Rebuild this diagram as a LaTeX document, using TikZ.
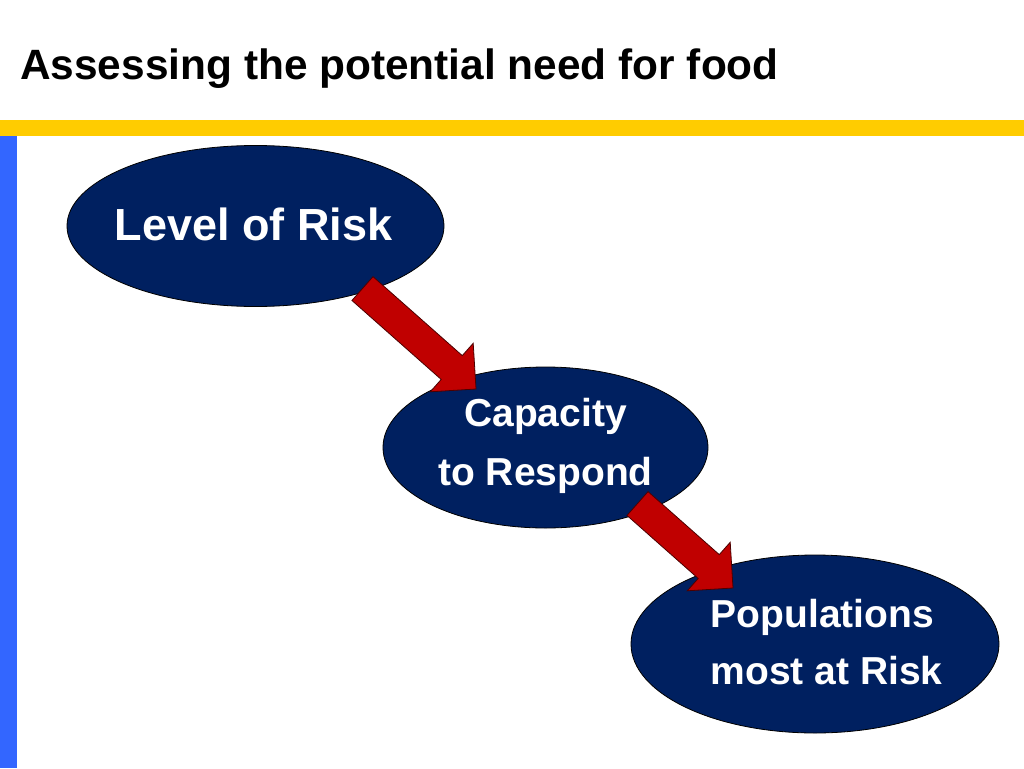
\documentclass[tikz,border=0pt]{standalone}
\usepackage{fontspec}
\setmainfont{Liberation Sans}
\usetikzlibrary{shapes.geometric,shapes.arrows,calc}
\definecolor{navy}{HTML}{002060}
\definecolor{arrowred}{HTML}{C00000}
\definecolor{barblue}{HTML}{3366FF}
\definecolor{baryellow}{HTML}{FFCC00}
\begin{document}
\begin{tikzpicture}[x=1pt,y=-1pt,
  bubble/.style={ellipse, draw=black, line width=0.8pt, fill=navy, inner sep=0pt},
  bubtext/.style={text=white, font=\fontsize{39}{47}\selectfont\bfseries, inner sep=0pt},
  bigtext/.style={text=white, font=\fontsize{45}{54}\selectfont\bfseries, inner sep=0pt},
  blockarrow/.style={single arrow, draw=black!70!red, line width=0.8pt, fill=arrowred,
    minimum width=64pt, single arrow head extend=16.5pt, single arrow tip angle=90,
    inner xsep=0pt, inner ysep=15.5pt, outer sep=0pt}]
\fill[white] (0,0) rectangle (1024,768);
\useasboundingbox (0,0) rectangle (1024,768);
% title and bars
\node[anchor=base west, font=\fontsize{42.4}{50}\selectfont\bfseries, inner sep=0pt] (title) at (20,79) {Assessing the potential need for food};
\fill[baryellow] (0,119.5) rectangle (1024,136);
\fill[barblue] (0,136) rectangle (16.7,768);
% bubbles
\node[bubble, minimum width=377pt, minimum height=161pt] (e1) at (255.5,226) {};
\node[bubble, minimum width=325pt, minimum height=161pt] (e2) at (545.5,447.5) {};
\node[bubble, minimum width=368pt, minimum height=178pt] (e3) at (815,644) {};
% texts
\node[bigtext, anchor=base] (t1) at (253.5,240) {Level of Risk};
\node[bubtext, anchor=base] (t2a) at (545.5,426.5) {Capacity};
\node[bubtext, anchor=base] (t2b) at (545.5,485) {to Respond};
\node[bubtext, anchor=base west] (t3a) at (710.5,627) {Populations};
\node[bubtext, anchor=base west] (t3b) at (710.5,684) {most at Risk};
% arrows
\coordinate (a1e) at (476,389);
\coordinate (a2e) at (733,588);
\node[blockarrow, minimum height=151.6pt, rotate=-41.5, anchor=tip] (arr1) at (a1e) {};
\node[blockarrow, minimum height=127.5pt, rotate=-41.5, anchor=tip] (arr2) at (a2e) {};
\end{tikzpicture}
\end{document}
